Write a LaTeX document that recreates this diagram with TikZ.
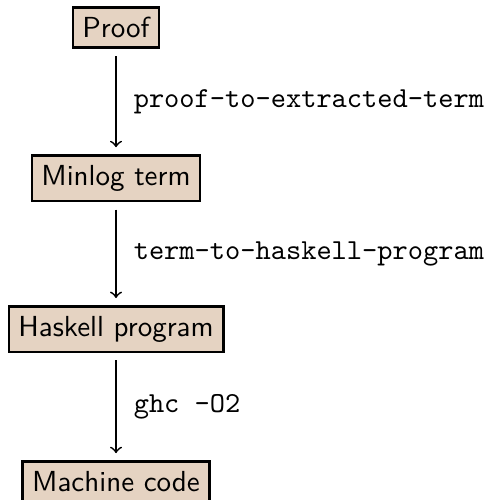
\documentclass[tikz,border=0pt]{standalone}
\usetikzlibrary{positioning}
\definecolor{boxfill}{RGB}{229,211,194}

\begin{document}
\begin{tikzpicture}[
stage/.style={rectangle, draw, thick, fill=boxfill, font=\sffamily},
pass/.style={->, semithick, shorten <=2.5pt, shorten >=2.5pt},
cmd/.style={right=2.5pt, font=\ttfamily},
node distance=52pt, on grid,
]
\useasboundingbox (-40pt,9.5pt) rectangle (127.2pt,-162.9pt);

% Stufen
\node[stage] (proof) {Proof};
\node[stage, below=of proof] (term) {Minlog term};
\node[stage, below=of term] (hs) {Haskell program};
\node[stage, below=52.5pt of hs] (mc) {Machine code};

% Uebersetzungen
\draw[pass] (proof) -- node[cmd]{proof-to-extracted-term} (term);
\draw[pass] (term) -- node[cmd]{term-to-haskell-program} (hs);
\draw[pass] (hs) -- node[cmd]{ghc -O2} (mc);

\end{tikzpicture}
\end{document}
